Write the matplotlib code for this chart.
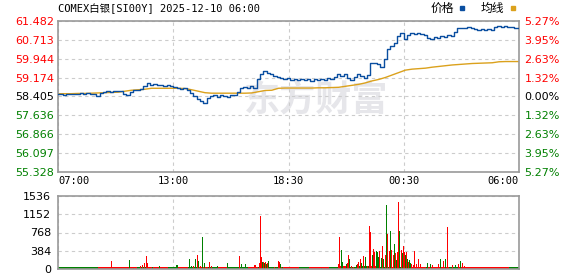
import matplotlib as mpl
mpl.use('Agg')
import matplotlib.pyplot as plt
from matplotlib.lines import Line2D

title = 'COMEX白银[SI00Y] 2025-12-10 06:00'
pre_close = 58.405
price_ticks = [55.328, 56.097, 56.866, 57.636, 58.405, 59.174, 59.944, 60.713, 61.482]
pct_labels = ['5.27%', '3.95%', '2.63%', '1.32%', '0.00%', '1.32%', '2.63%', '3.95%', '5.27%']
time_labels = ['07:00', '13:00', '18:30', '00:30', '06:00']
time_pos = [0, 345, 690, 1035, 1380]
vol_ticks = [0, 384, 768, 1152, 1536]

# price every 10 minutes from 07:00
price = [58.49, 58.50, 58.48, 58.51, 58.50, 58.52, 58.51, 58.53, 58.52, 58.54,
         58.52, 58.50, 58.44, 58.56, 58.59, 58.62, 58.58, 58.63, 58.61, 58.64,
         58.52, 58.45, 58.60, 58.67, 58.65, 58.70, 58.82, 58.96, 58.88, 58.90,
         58.86, 58.88, 58.85, 58.89, 58.84, 58.78, 58.76, 58.72, 58.74, 58.68,
         58.56, 58.44, 58.32, 58.22, 58.14, 58.34, 58.42, 58.48, 58.40, 58.45,
         58.43, 58.38, 58.45, 58.48, 58.60, 58.76, 58.80, 58.76, 58.82, 58.74,
         59.10, 59.34, 59.46, 59.36, 59.32, 59.26, 59.22, 59.14, 59.12, 59.15,
         59.09, 59.11, 59.07, 59.13, 59.09, 59.11, 59.05, 59.11, 59.08, 59.13,
         59.09, 59.15, 59.11, 59.21, 59.31, 59.25, 59.33, 59.15, 59.09, 59.21,
         59.31, 59.23, 59.15, 59.28, 59.75, 59.78, 59.73, 59.61, 59.93, 60.33,
         60.48, 60.58, 60.88, 60.98, 60.75, 60.93, 61.01, 60.97, 61.01, 60.95,
         60.91, 60.79, 60.75, 60.83, 60.79, 60.87, 60.85, 60.91, 60.89, 61.05,
         61.19, 61.21, 61.18, 61.23, 61.19, 61.17, 61.13, 61.17, 61.11, 61.15,
         61.13, 61.25, 61.28, 61.25, 61.27, 61.24, 61.23, 61.21, 61.18]

# average line every 20 minutes
avg = [58.52, 58.52, 58.52, 58.53, 58.53, 58.54, 58.55, 58.56, 58.57, 58.58,
       58.62, 58.66, 58.68, 58.70, 58.74, 58.74, 58.74, 58.74, 58.74, 58.73,
       58.68, 58.62, 58.56, 58.54, 58.54, 58.54, 58.54, 58.54, 58.54, 58.55,
       58.60, 58.65, 58.66, 58.74, 58.75, 58.75, 58.75, 58.75, 58.75, 58.76,
       58.76, 58.77, 58.78, 58.82, 58.86, 58.90, 58.96, 59.04, 59.10, 59.18,
       59.28, 59.38, 59.48, 59.52, 59.54, 59.56, 59.60, 59.63, 59.66, 59.69,
       59.71, 59.73, 59.75, 59.76, 59.77, 59.78, 59.82, 59.83, 59.83, 59.83]

# volume spikes (minute offset, volume, r=up g=down)
vol_min = [123, 159, 174, 213, 225, 237, 246, 252, 258, 264, 267, 282, 303, 306,
           354, 357, 393, 399, 405, 411, 417, 420, 426, 432, 438, 444, 453, 459,
           477, 507, 543, 549, 561, 573, 588, 591, 603, 606, 609, 612, 615, 618,
           621, 624, 627, 630, 645, 648, 660, 663, 666, 672,
           783, 789, 840, 843, 849, 852, 855, 864, 867, 870, 873, 879, 885, 894,
           897, 900, 906, 909, 915, 921, 924, 927, 933, 936, 942, 945, 948, 954,
           957, 960, 963, 969, 972, 975, 981, 984, 987, 993, 996, 999, 1005, 1008,
           1011, 1014, 1017, 1020, 1023, 1029, 1032, 1035, 1038, 1041, 1044, 1047,
           1050, 1053, 1056, 1059, 1065, 1068, 1074, 1080, 1086, 1095, 1104, 1107,
           1116, 1122, 1140, 1146, 1155, 1161, 1167, 1176, 1182, 1191, 1200, 1206,
           1212, 1218, 1221, 1248, 1257, 1272, 1308, 1317, 1323, 1350]
vol_val = [300, 160, 25, 196, 30, 40, 60, 80, 130, 280, 120, 40, 70, 40,
           90, 90, 200, 70, 70, 215, 300, 170, 70, 665, 120, 40, 150, 60,
           70, 135, 280, 110, 100, 40, 90, 80, 130, 1105, 245, 150, 150, 130,
           150, 110, 120, 160, 40, 50, 170, 150, 100, 40,
           25, 25, 100, 665, 405, 150, 60, 100, 120, 300, 200, 70, 50, 90,
           110, 140, 200, 130, 265, 250, 70, 70, 910, 770, 300, 420, 350, 380,
           350, 250, 370, 240, 480, 200, 300, 1350, 740, 370, 790, 400, 300, 525,
           340, 180, 350, 1415, 790, 410, 330, 480, 350, 300, 350, 200,
           150, 180, 130, 100, 90, 370, 100, 215, 110, 40, 40, 130,
           100, 90, 100, 215, 160, 220, 875, 40, 90, 90, 110, 170,
           130, 60, 40, 30, 45, 50, 40, 55, 55, 25]
vol_col = ('grrggg' 'rrrrr' 'g' 'gr' 'gg' 'gg' 'rgrgr' 'ggr' 'rr' 'g' 'g' 'rg' 'gr' 'rr'
           'rrrgrgrgrg' 'gr' 'rr' 'gg'
           'rg' 'rrggr' 'grrg' 'rr' 'grrrg' 'rggrr' 'rg' 'rrgg' 'grgrgr' 'gr'
           'rgrrgrgrrg' 'rgrrgrgrgg' 'rrrrrr' 'rgggrr' 'grg' 'rgrgrgrrrrg' 'grrrr' 'rggrrrrg')

# low background volume, one bar per 30 minutes
base_vol = [40, 38, 42, 38, 40, 40, 45, 40, 38, 40, 48, 45, 40, 38, 40, 40,
            45, 40, 48, 40, 45, 48, 40, 45, 48, 40, 45, 40, 55, 50, 60, 55,
            50, 48, 48, 45, 48, 50, 45, 40, 40, 38, 38, 40, 38, 40]
base_col = 'ggggrrrrgrrgrgrgrggrggrrgrrgrggrgrgrrrrgrrrrrg'

UP = '#ff0000'
DOWN = '#008000'
BLUE = '#0a4ea0'
GOLD = '#dba11c'
GRID = '#cccccc'
FRAME = '#999999'
cjk = ['Noto Sans CJK SC', 'DejaVu Sans']

fig = plt.figure(figsize=(5.78, 2.76), dpi=100)
ax = fig.add_axes([58/578, 104/276, 461/578, 151/276])
axv = fig.add_axes([58/578, 7/276, 461/578, 73/276])

# watermark
ax.text(0.56, 0.48, '东方财富', transform=ax.transAxes, ha='center', va='center',
        fontsize=26, fontweight='bold', color='#e6e6ea', family=cjk, zorder=0)

ax.plot([i * 10 for i in range(len(price))], price, color=BLUE, lw=1.0, zorder=3,
        drawstyle='steps-mid')
ax.plot([j * 20 for j in range(len(avg))], avg, color=GOLD, lw=1.0, zorder=2)

ax.set_xlim(0, 1380)
ax.set_ylim(price_ticks[0], price_ticks[-1])
ax.set_yticks(price_ticks)
ax.set_yticklabels(['%.3f' % v for v in price_ticks], fontsize=8)
for lbl, v in zip(ax.get_yticklabels(), price_ticks):
    lbl.set_color(UP if v > pre_close + 1e-6 else (DOWN if v < pre_close - 1e-6 else 'black'))
ax.set_xticks(time_pos)
ax.set_xticklabels(time_labels, fontsize=7.5, family='DejaVu Sans Mono')
xl = ax.get_xticklabels()
xl[0].set_ha('left')
xl[-1].set_ha('right')
ax.tick_params(length=0, pad=3)
ax.grid(True, color=GRID, linestyle=(0, (3, 3)), lw=0.8)
for s in ax.spines.values():
    s.set_color(FRAME)
    s.set_linewidth(1.2)

ax2 = ax.twinx()
ax2.set_ylim(ax.get_ylim())
ax2.set_yticks(price_ticks)
ax2.set_yticklabels(pct_labels, fontsize=8)
for lbl, v in zip(ax2.get_yticklabels(), price_ticks):
    lbl.set_color(UP if v > pre_close + 1e-6 else (DOWN if v < pre_close - 1e-6 else 'black'))
ax2.tick_params(length=0, pad=4)
for s in ax2.spines.values():
    s.set_visible(False)

# volume
axv.bar([k * 30 for k in range(len(base_vol))], base_vol, width=30, align='edge',
        color=[UP if c == 'r' else DOWN for c in base_col[:len(base_vol)]], lw=0)
axv.bar(vol_min, vol_val, width=2.4,
        color=[UP if c == 'r' else DOWN for c in vol_col[:len(vol_min)]], lw=0)
axv.set_xlim(0, 1380)
axv.set_ylim(0, 1536)
axv.set_yticks(vol_ticks)
axv.set_yticklabels([str(v) for v in vol_ticks], fontsize=8)
axv.set_xticks(time_pos)
axv.set_xticklabels([])
axv.tick_params(length=0, pad=5)
axv.grid(True, color=GRID, linestyle=(0, (3, 3)), lw=0.8)
axv.set_axisbelow(True)
for s in axv.spines.values():
    s.set_color(FRAME)
    s.set_linewidth(1.2)

fig.text(58/578, 1 - 9/276, title, ha='left', va='center', fontsize=7.5,
         family=['DejaVu Sans Mono', 'Noto Sans CJK SC'])

h1 = Line2D([], [], color=BLUE, marker='s', linestyle='none', markersize=3)
h2 = Line2D([], [], color=GOLD, marker='s', linestyle='none', markersize=3)
fig.legend([h1, h2], ['价格', '均线'], loc='upper right', bbox_to_anchor=(522/578, 1 + 3/276),
           ncol=2, frameon=False, markerfirst=False, prop={'family': cjk, 'size': 8.5},
           handlelength=0.8, handletextpad=0.3, columnspacing=1.2, borderaxespad=0.)

plt.savefig('out.png', dpi=100)
plt.close()
